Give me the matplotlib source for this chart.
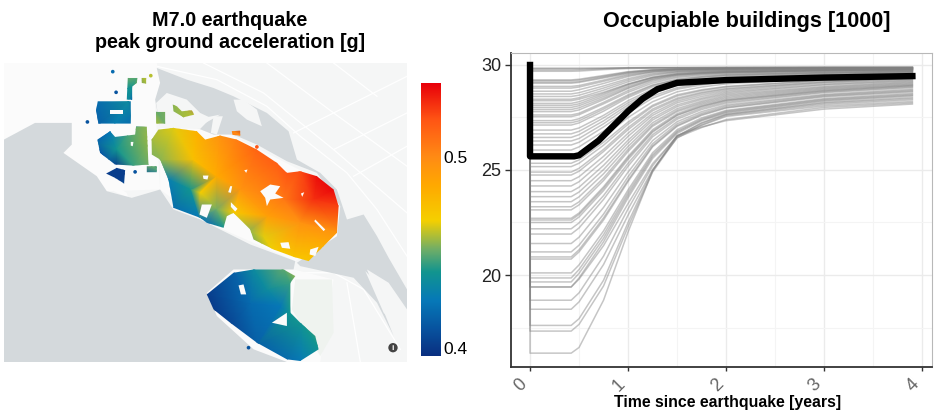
import numpy as np
import matplotlib
matplotlib.use("Agg")
import matplotlib.pyplot as plt
from matplotlib.colors import LinearSegmentedColormap
from matplotlib.path import Path
from matplotlib.patches import PathPatch, Polygon, Circle
from matplotlib.transforms import ScaledTranslation
from matplotlib.tri import Triangulation

plt.rcParams['font.family'] = ['Liberation Sans', 'DejaVu Sans']

W, H = 936, 420

#recovery curves. first value is the plateau
times = [0.5, 0.75, 1.0, 1.25, 1.5, 1.75, 2.0, 3.0, 3.9]
curves = [
    [29.85, 29.85, 29.85, 29.87, 29.88, 29.88, 29.88, 29.89, 29.90, 29.90],
    [29.82, 29.82, 29.84, 29.86, 29.87, 29.87, 29.88, 29.88, 29.89, 29.89],
    [29.76, 29.77, 29.82, 29.86, 29.86, 29.87, 29.87, 29.87, 29.88, 29.88],
    [29.70, 29.71, 29.78, 29.83, 29.85, 29.86, 29.86, 29.86, 29.87, 29.88],
    [29.29, 29.32, 29.50, 29.68, 29.78, 29.82, 29.83, 29.84, 29.86, 29.87],
    [29.25, 29.28, 29.46, 29.66, 29.76, 29.80, 29.82, 29.83, 29.85, 29.86],
    [29.18, 29.21, 29.42, 29.63, 29.75, 29.80, 29.81, 29.82, 29.84, 29.86],
    [29.13, 29.17, 29.38, 29.60, 29.74, 29.80, 29.81, 29.82, 29.84, 29.85],
    [28.98, 29.02, 29.28, 29.55, 29.70, 29.77, 29.79, 29.81, 29.83, 29.85],
    [28.90, 28.95, 29.22, 29.50, 29.68, 29.76, 29.79, 29.80, 29.82, 29.84],
    [28.75, 28.82, 29.12, 29.45, 29.66, 29.74, 29.77, 29.78, 29.82, 29.84],
    [28.62, 28.68, 29.00, 29.35, 29.60, 29.70, 29.74, 29.76, 29.80, 29.82],
    [28.50, 28.56, 28.90, 29.28, 29.55, 29.68, 29.72, 29.75, 29.79, 29.81],
    [28.37, 28.44, 28.80, 29.20, 29.50, 29.65, 29.70, 29.72, 29.78, 29.80],
    [28.30, 28.37, 28.70, 29.10, 29.40, 29.55, 29.62, 29.66, 29.74, 29.78],
    [28.17, 28.25, 28.65, 29.08, 29.42, 29.60, 29.66, 29.70, 29.76, 29.80],
    [28.08, 28.15, 28.58, 29.05, 29.40, 29.58, 29.65, 29.69, 29.75, 29.79],
    [27.98, 28.06, 28.50, 28.98, 29.35, 29.55, 29.62, 29.66, 29.74, 29.78],
    [27.88, 27.96, 28.42, 28.92, 29.32, 29.52, 29.60, 29.65, 29.73, 29.77],
    [27.78, 27.86, 28.35, 28.88, 29.28, 29.50, 29.58, 29.63, 29.72, 29.76],
    [27.62, 27.70, 28.22, 28.78, 29.22, 29.45, 29.55, 29.60, 29.70, 29.75],
    [27.54, 27.63, 28.15, 28.70, 29.14, 29.40, 29.50, 29.56, 29.66, 29.72],
    [27.35, 27.44, 27.98, 28.58, 29.05, 29.32, 29.44, 29.52, 29.64, 29.70],
    [27.25, 27.34, 27.90, 28.52, 29.02, 29.30, 29.43, 29.51, 29.64, 29.70],
    [27.14, 27.24, 27.80, 28.45, 28.96, 29.25, 29.38, 29.46, 29.60, 29.68],
    [26.90, 27.00, 27.60, 28.30, 28.86, 29.18, 29.32, 29.42, 29.58, 29.66],
    [26.72, 26.84, 27.48, 28.20, 28.78, 29.12, 29.28, 29.38, 29.55, 29.64],
    [26.55, 26.68, 27.34, 28.10, 28.72, 29.08, 29.24, 29.34, 29.52, 29.62],
    [26.38, 26.50, 27.20, 28.00, 28.65, 29.02, 29.20, 29.32, 29.50, 29.60],
    [26.19, 26.32, 27.05, 27.85, 28.52, 28.92, 29.10, 29.22, 29.44, 29.58],
    [25.95, 26.10, 26.85, 27.72, 28.42, 28.85, 29.05, 29.18, 29.42, 29.56],
    [25.65, 25.80, 26.60, 27.50, 28.25, 28.72, 28.95, 29.10, 29.36, 29.52],
    [25.32, 25.48, 26.32, 27.28, 28.08, 28.58, 28.82, 28.98, 29.28, 29.46],
    [25.16, 25.32, 26.18, 27.18, 28.02, 28.52, 28.78, 28.95, 29.26, 29.42],
    [24.90, 25.08, 25.98, 27.02, 27.90, 28.42, 28.70, 28.88, 29.20, 29.38],
    [24.76, 24.94, 25.88, 26.92, 27.82, 28.36, 28.65, 28.84, 29.18, 29.36],
    [24.49, 24.68, 25.65, 26.75, 27.70, 28.28, 28.58, 28.78, 29.14, 29.32],
    [24.24, 24.44, 25.45, 26.60, 27.60, 28.20, 28.50, 28.72, 29.08, 29.28],
    [23.97, 24.18, 25.22, 26.42, 27.48, 28.10, 28.42, 28.66, 29.05, 29.24],
    [23.73, 23.95, 25.02, 26.28, 27.38, 28.02, 28.36, 28.60, 28.98, 29.20],
    [23.49, 23.72, 24.82, 26.12, 27.25, 27.92, 28.28, 28.54, 28.94, 29.16],
    [23.25, 23.48, 24.62, 25.98, 27.15, 27.84, 28.22, 28.48, 28.90, 29.12],
    [23.10, 23.34, 24.50, 25.88, 27.08, 27.78, 28.16, 28.42, 28.86, 29.08],
    [22.70, 22.95, 24.20, 25.65, 26.92, 27.68, 28.10, 28.36, 28.82, 29.05],
    [22.62, 22.88, 24.12, 25.58, 26.85, 27.62, 28.04, 28.32, 28.78, 29.02],
    [22.50, 22.76, 24.02, 25.50, 26.80, 27.60, 28.02, 28.30, 28.76, 29.00],
    [22.20, 22.48, 23.78, 25.32, 26.68, 27.50, 27.95, 28.24, 28.72, 28.96],
    [21.95, 22.24, 23.60, 25.18, 26.58, 27.42, 27.88, 28.18, 28.68, 28.92],
    [21.50, 21.80, 23.22, 24.90, 26.40, 27.30, 27.78, 28.10, 28.60, 28.85],
    [21.10, 21.42, 22.90, 24.68, 26.25, 27.20, 27.70, 28.04, 28.56, 28.80],
    [20.86, 21.20, 22.72, 24.52, 26.15, 27.12, 27.64, 27.98, 28.52, 28.76],
    [20.76, 21.10, 22.62, 24.45, 26.10, 27.08, 27.60, 27.95, 28.48, 28.72],
    [20.10, 20.48, 22.10, 24.05, 25.82, 26.92, 27.48, 27.84, 28.40, 28.65],
    [19.86, 20.26, 21.92, 23.92, 25.72, 26.85, 27.42, 27.80, 28.36, 28.60],
    [19.67, 20.08, 21.75, 23.80, 25.64, 26.80, 27.38, 27.76, 28.32, 28.56],
    [19.43, 19.86, 21.58, 23.68, 25.55, 26.74, 27.34, 27.72, 28.28, 28.52],
    [19.43, 19.80, 21.40, 23.40, 25.30, 26.60, 27.25, 27.66, 28.22, 28.45],
    [18.80, 19.15, 20.90, 23.15, 25.20, 26.62, 27.22, 27.64, 28.18, 28.40],
    [18.37, 18.72, 20.50, 22.85, 25.02, 26.52, 27.15, 27.60, 28.12, 28.34],
    [17.60, 17.92, 19.75, 22.50, 24.98, 26.60, 27.12, 27.55, 28.05, 28.26],
    [17.33, 17.65, 19.48, 22.30, 24.90, 26.55, 27.02, 27.40, 27.98, 28.20],
    [16.28, 16.55, 18.80, 22.05, 24.95, 26.65, 27.05, 27.35, 27.90, 28.14],
]
bold_times = [0.0, 0.0, 0.45, 0.5, 0.7, 1.0, 1.15, 1.3, 1.5, 2.0, 3.0, 3.9]
bold_vals = [30.0, 25.65, 25.65, 25.7, 26.4, 27.8, 28.4, 28.85, 29.15, 29.28, 29.4, 29.47]
xticks = [0, 1, 2, 3, 4]
yticks = [20, 25, 30]

#map shapes, in units of the map image
water = [
    [(12, 270), (105, 220), (215, 220), (215, 285), (190, 310), (290, 380), (320, 425), (395, 445),
     (480, 420), (520, 480), (600, 510), (750, 585), (885, 635), (880, 660), (700, 660), (620, 730),
     (650, 800), (760, 900), (860, 938), (12, 938)],
    [(470, 55), (560, 90), (640, 115), (700, 140), (800, 190), (865, 245), (890, 330), (960, 370),
     (1010, 420), (1040, 510), (1090, 495), (1130, 560), (1165, 625), (1220, 720), (1220, 780),
     (1165, 700), (1100, 660), (1180, 860), (1130, 760), (1060, 685), (900, 650), (890, 640),
     (1010, 560), (1020, 470), (950, 370), (860, 335), (770, 285), (700, 255), (640, 255),
     (590, 235), (660, 195), (480, 230), (465, 150), (480, 100)],
]
water_islands = [
    [(700, 150), (730, 150), (770, 180), (785, 230), (740, 210), (710, 185)],
    [(640, 200), (668, 200), (650, 255), (632, 250)],
    [(1095, 665), (1130, 700), (1170, 810), (1150, 790)],
    [(500, 130), (560, 150), (600, 190), (632, 205), (600, 238), (480, 235), (468, 160)],
]
light_land = [
    [(12, 40), (470, 40), (480, 100), (465, 160), (480, 420), (320, 425), (290, 380), (190, 310),
     (215, 285), (215, 220), (105, 220), (12, 270)],
    [(480, 230), (660, 240), (1015, 420), (1015, 560), (885, 635), (600, 510), (480, 420)],
    [(620, 730), (700, 660), (880, 660), (1000, 690), (960, 938), (860, 938), (760, 900), (650, 800)],
    [(325, 395), (380, 430), (385, 445), (330, 420)],
]
green_land = [[(885, 690), (995, 690), (1000, 850), (960, 920), (900, 820), (875, 780)]]
roads = [
    [(470, 50), (650, 90), (800, 170), (900, 260), (1040, 370), (1130, 480), (1220, 620)],
    [(610, 40), (790, 130), (1000, 300), (1220, 490)],
    [(880, 250), (1100, 140), (1220, 80)],
    [(1000, 300), (1220, 190)],
    [(1060, 380), (1220, 290)],
    [(800, 40), (1000, 190), (1220, 350)],
    [(1000, 40), (1130, 140)],
    [(885, 670), (1000, 670), (1090, 720), (1200, 900)],
    [(1040, 700), (1080, 938)],
]
regions = [
    [(383, 85), (412, 85), (410, 100), (396, 110), (396, 150), (380, 150)],
    [(293, 155), (392, 155), (392, 222), (295, 222), (288, 182)],
    [(468, 187), (495, 187), (495, 222), (468, 222)],
    [(518, 165), (530, 170), (545, 185), (575, 182), (582, 195), (550, 203), (520, 185)],
    [(292, 270), (330, 245), (345, 262), (405, 255), (408, 230), (440, 232), (445, 345), (400, 348),
     (345, 345), (300, 310)],
    [(318, 372), (350, 355), (375, 362), (372, 402), (345, 385)],
    [(475, 240), (520, 235), (590, 245), (615, 270), (660, 258), (710, 270), (770, 300), (830, 340),
     (860, 370), (900, 365), (950, 380), (1000, 420), (1015, 470), (1010, 550), (970, 590), (925, 635),
     (880, 622), (820, 600), (760, 570), (750, 540), (700, 490), (680, 500), (670, 535), (620, 520),
     (600, 505), (520, 475), (505, 390), (480, 330), (455, 315), (455, 270)],
    [(620, 735), (700, 670), (760, 660), (850, 660), (885, 680), (870, 700), (870, 790), (900, 820),
     (945, 860), (955, 900), (900, 935), (860, 930), (770, 880), (690, 820), (640, 780)],
    [(695, 245), (720, 243), (720, 258), (697, 256)],
    [(425, 85), (438, 85), (438, 102), (425, 100)],
    [(440, 350), (470, 350), (470, 368), (440, 368)],
]
holes = [
    [(330, 182), (368, 182), (368, 193), (330, 193)],
    [(605, 465), (635, 465), (620, 505), (598, 495)],
    [(780, 425), (810, 405), (840, 410), (825, 432), (850, 445), (810, 450), (800, 470), (795, 445)],
    [(945, 510), (975, 540), (970, 545), (942, 515)],
    [(930, 600), (955, 592), (945, 620), (928, 615)],
    [(840, 580), (865, 578), (870, 598), (845, 595)],
    [(608, 378), (625, 378), (622, 390), (610, 388)],
    [(690, 410), (696, 410), (692, 430), (684, 428)],
    [(692, 458), (712, 478), (705, 486), (692, 472)],
    [(392, 277), (400, 277), (398, 290), (392, 288)],
    [(715, 708), (730, 705), (738, 735), (722, 735)],
    [(815, 820), (860, 790), (860, 830)],
    [(902, 432), (912, 428), (906, 442)],
    [(732, 362), (742, 360), (738, 370)],
]
dots = [(338, 66), (348, 128), (262, 217), (405, 367), (745, 895), (770, 292), (452, 78)]
dot_vals = [0.42, 0.41, 0.41, 0.41, 0.41, 0.52, 0.46]

#peak acceleration read at places on the map
pga_x = [383, 412, 396, 385, 285, 395, 295, 395, 468, 495, 518, 582, 550,
         285, 330, 350, 400, 440, 447, 400, 320, 312, 350, 380, 345,
         455, 475, 520, 590, 480, 505, 515, 570, 598, 625, 675, 650, 600, 580, 660, 650, 710, 770,
         720, 700, 745, 790, 820, 880, 930, 975, 1015, 900, 850, 830, 860, 900, 950, 1005, 1020, 940, 800,
         615, 700, 760, 850, 890, 870, 870, 905, 960, 900, 860, 770, 690, 635, 750, 800, 840,
         690, 725, 460, 430]
pga_y = [80, 80, 112, 155, 150, 150, 225, 225, 185, 225, 160, 200, 205,
         280, 245, 300, 235, 230, 345, 350, 335, 370, 350, 365, 405,
         270, 235, 232, 243, 330, 390, 480, 420, 510, 525, 540, 480, 430, 330, 255, 380, 265, 295,
         420, 490, 545, 560, 605, 625, 640, 595, 550, 520, 450, 335, 365, 360, 375, 415, 470, 450, 500,
         735, 665, 655, 655, 680, 700, 790, 820, 900, 940, 935, 885, 825, 785, 760, 720, 770,
         240, 262, 345, 80]
pga_v = [0.452, 0.45, 0.44, 0.435, 0.42, 0.418, 0.416, 0.42, 0.45, 0.452, 0.455, 0.46, 0.458,
         0.415, 0.425, 0.44, 0.45, 0.455, 0.452, 0.445, 0.412, 0.402, 0.402, 0.402, 0.402,
         0.458, 0.46, 0.465, 0.482, 0.455, 0.428, 0.42, 0.44, 0.425, 0.42, 0.44, 0.452, 0.468, 0.475, 0.497,
         0.485, 0.505, 0.515, 0.495, 0.47, 0.455, 0.465, 0.468, 0.472, 0.472, 0.482, 0.495, 0.497, 0.507,
         0.517, 0.52, 0.522, 0.536, 0.538, 0.525, 0.528, 0.49,
         0.40, 0.415, 0.435, 0.45, 0.456, 0.445, 0.44, 0.44, 0.44, 0.425, 0.42, 0.415, 0.405, 0.40, 0.42, 0.435, 0.425,
         0.50, 0.50, 0.45, 0.46]

cbar_low, cbar_high = 0.396, 0.539
cbar_ticks = [0.4, 0.5]
color_stops = [(0.396, '#0a2f80'), (0.41, '#08539f'), (0.425, '#0679b8'), (0.44, '#12958f'),
               (0.452, '#72ae66'), (0.467, '#f5d000'), (0.485, '#ffaa00'), (0.5, '#ff8c14'),
               (0.52, '#ff5514'), (0.539, '#e8000a')]


def axes_px(x0, y0, x1, y1):
    return fig.add_axes([x0/W, 1 - y1/H, (x1 - x0)/W, (y1 - y0)/H])


def polys_path(polys):
    verts = []
    codes = []
    for p in polys:
        verts += list(p) + [p[0]]
        codes += [Path.MOVETO] + [Path.LINETO]*(len(p) - 1) + [Path.CLOSEPOLY]
    return Path(verts, codes)


cmap = LinearSegmentedColormap.from_list(
    'pga', [((v - cbar_low)/(cbar_high - cbar_low), c) for v, c in color_stops])

fig = plt.figure(figsize=(W/100, H/100), dpi=100)

#map
land_col = '#f5f6f6'
white_col = '#fbfbfb'
water_col = '#d4d9dc'
ax = axes_px(4, 63, 407, 362)
ax.set_xlim(12, 1220)
ax.set_ylim(938, 40)
ax.axis('off')
ax.add_patch(Polygon([(12, 40), (1220, 40), (1220, 938), (12, 938)], fc=land_col, ec='none'))
for r in roads:
    ax.plot(*zip(*r), color='white', lw=0.9, zorder=1)
for p in light_land:
    ax.add_patch(Polygon(p, fc=white_col, ec='none', zorder=1))
for p in green_land:
    ax.add_patch(Polygon(p, fc='#eff3ef', ec='none', zorder=1))
for p in water:
    ax.add_patch(Polygon(p, fc=water_col, ec='none', zorder=2))
for p in water_islands:
    ax.add_patch(Polygon(p, fc=land_col, ec='none', zorder=2))

tri = Triangulation(pga_x, pga_y)
clip = PathPatch(polys_path(regions), transform=ax.transData, fc='none', ec='none')
ax.add_patch(clip)
mesh = ax.tripcolor(tri, pga_v, shading='gouraud', cmap=cmap, vmin=cbar_low, vmax=cbar_high, zorder=3)
mesh.set_clip_path(clip)
ax.scatter(*zip(*dots), c=dot_vals, cmap=cmap, vmin=cbar_low, vmax=cbar_high, s=7, zorder=3, lw=0)
for p in holes:
    ax.add_patch(Polygon(p, fc=white_col, ec='none', zorder=4))
ax.add_patch(Circle((1178, 895), 14, fc='#444444', ec='none', zorder=5))
ax.text(1178, 896, 'i', color='white', fontsize=6, fontweight='bold', ha='center', va='center', zorder=6)

#colorbar
cax = axes_px(421, 83, 441, 356)
cax.imshow(np.linspace(cbar_high, cbar_low, 256).reshape(-1, 1), cmap=cmap, aspect='auto',
           vmin=cbar_low, vmax=cbar_high, extent=[0, 1, cbar_low, cbar_high])
cax.set_xticks([])
cax.set_yticks(cbar_ticks)
cax.yaxis.tick_right()
cax.tick_params(axis='y', length=0, labelsize=12.5, pad=1.5)
for s in cax.spines.values():
    s.set_visible(False)

#recovery curves
ax2 = axes_px(511, 53, 932, 367)
for c in curves:
    ax2.plot([0, 0, 0.42] + times, [30, c[0], c[0]] + c[1:], color='#808080', alpha=0.45, lw=1.1)
ax2.plot(bold_times, bold_vals, color='black', lw=4.6, solid_joinstyle='round')
ax2.set_xlim(-0.194, 4.10)
ax2.set_ylim(15.62, 30.57)
ax2.set_xticks(xticks)
ax2.set_yticks(yticks)
ax2.set_xticks([0.5, 1.5, 2.5, 3.5], minor=True)
ax2.set_yticks([17.5, 22.5, 27.5], minor=True)
ax2.grid(which='major', color='#ebebeb', lw=1)
ax2.grid(which='minor', color='#f4f4f4', lw=0.8)
ax2.set_axisbelow(True)
ax2.tick_params(axis='both', which='minor', length=0)
ax2.tick_params(axis='y', which='major', length=4, width=1, color='#333333', labelsize=13, pad=3, labelcolor='#222222')
ax2.tick_params(axis='x', which='major', length=3, width=1, color='#333333', labelsize=13, pad=3, labelcolor='#666666')
shift = ScaledTranslation(-9/100, 0, fig.dpi_scale_trans)
for lab in ax2.get_xticklabels():
    lab.set_rotation(45)
    lab.set_transform(lab.get_transform() + shift)
ax2.spines['left'].set_color('#333333')
ax2.spines['bottom'].set_color('#333333')
ax2.spines['left'].set_linewidth(1.3)
ax2.spines['bottom'].set_linewidth(1.3)
ax2.spines['top'].set_color('#b8b8b8')
ax2.spines['right'].set_color('#b8b8b8')

fig.text(230/W, 1 - 32/H, 'M7.0 earthquake\npeak ground acceleration [g]', ha='center', va='center',
         fontsize=14.2, fontweight='bold', linespacing=1.2)
fig.text(747/W, 1 - 21/H, 'Occupiable buildings [1000]', ha='center', va='center',
         fontsize=15.6, fontweight='bold')
fig.text(728/W, 1 - 402/H, 'Time since earthquake [years]', ha='center', va='center',
         fontsize=11.4, fontweight='bold')

fig.savefig('out.png', dpi=100)
